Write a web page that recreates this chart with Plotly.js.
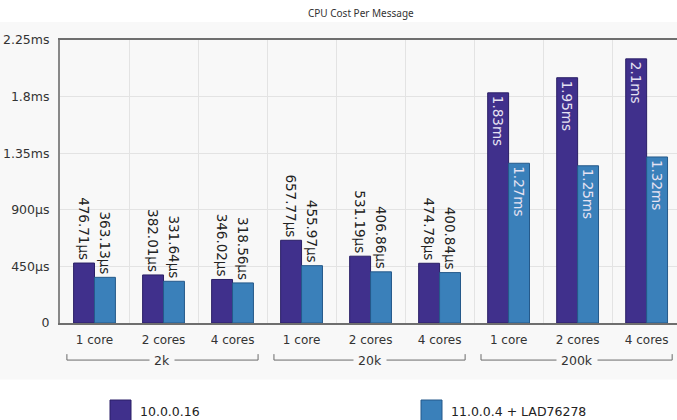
<!DOCTYPE html>
<html>
<head>
<meta charset="utf-8">
<script src="https://cdn.plot.ly/plotly-3.0.1.min.js"></script>
<style>html,body{margin:0;padding:0;background:#fff;}#chart{width:677px;height:420px;}</style>
</head>
<body>
<div id="chart"></div>
<script>
// ---- data ----
const groups = ['2k', '20k', '200k'];
const cores = ['1 core', '2 cores', '4 cores'];
const seriesNames = ['10.0.0.16', '11.0.0.4 + LAD76278'];
const seriesColors = ['#40308c', '#3a80ba'];
const seriesLines = ['#2a1f66', '#25598a'];
// values in microseconds, order: 2k(1,2,4), 20k(1,2,4), 200k(1,2,4)
const v10 = [476.71, 382.01, 346.02, 657.77, 531.19, 474.78, 1830, 1950, 2100];
const v11 = [363.13, 331.64, 318.56, 455.97, 406.86, 400.84, 1270, 1250, 1320];
const t10 = ['476.71µs', '382.01µs', '346.02µs', '657.77µs', '531.19µs', '474.78µs', '1.83ms', '1.95ms', '2.1ms'];
const t11 = ['363.13µs', '331.64µs', '318.56µs', '455.97µs', '406.86µs', '400.84µs', '1.27ms', '1.25ms', '1.32ms'];
const yTickVals = [0, 450, 900, 1350, 1800, 2250];
const yTickText = ['0', '450µs', '900µs', '1.35ms', '1.8ms', '2.25ms'];

// ---- build ----
const xIdx = [], xLabels = [];
groups.forEach((g, gi) => cores.forEach((c, ci) => { xIdx.push(gi * cores.length + ci); xLabels.push(c); }));

function mk(vals, txt, i) {
  return {
    type: 'bar', x: xIdx, y: vals, name: seriesNames[i], text: txt,
    textposition: vals.map(v => v > 1000 ? 'inside' : 'outside'),
    insidetextanchor: 'end', textangle: 90, constraintext: 'none', cliponaxis: false,
    insidetextfont: {family: 'DejaVu Sans', size: 13.5, color: '#e6e2f2'},
    outsidetextfont: {family: 'DejaVu Sans', size: 13.5, color: '#222'},
    marker: {color: seriesColors[i], line: {color: seriesLines[i], width: 1}},
    hoverinfo: 'none', showlegend: false
  };
}
const data = [mk(v10, t10, 0), mk(v11, t11, 1)];

const shapes = [], annotations = [];
// faint background band
shapes.push({type: 'rect', xref: 'paper', yref: 'paper', x0: -0.1, x1: 1.01, y0: -0.2, y1: 1.064,
  fillcolor: '#f8f8f8', line: {width: 0}, layer: 'below'});
// group brackets
groups.forEach((g, gi) => {
  const a = gi * cores.length - 0.4, b = gi * cores.length + cores.length - 0.63;
  const yb = -0.131, yt = -0.11;
  shapes.push({type: 'path', xref: 'x', yref: 'paper',
    path: `M${a},${yt} L${a},${yb} L${b},${yb} L${b},${yt}`,
    line: {color: '#6a6a6a', width: 1}});
  annotations.push({xref: 'x', yref: 'paper', x: (a + b) / 2, y: yb - 0.003, text: g, showarrow: false,
    font: {family: 'DejaVu Sans', size: 12.5, color: '#333'}, bgcolor: '#f8f8f8',
    xanchor: 'center', yanchor: 'middle', borderpad: 4});
});
// legend
const legX = [110, 421];
seriesNames.forEach((n, i) => {
  const px0 = legX[i], px1 = legX[i] + 21;
  shapes.push({type: 'rect', xref: 'paper', yref: 'paper',
    x0: (px0 - 60) / 617, x1: (px1 - 60) / 617, y0: (323 - 425) / 283, y1: (323 - 400) / 283,
    fillcolor: seriesColors[i], line: {color: seriesLines[i], width: 1}});
  annotations.push({xref: 'paper', yref: 'paper', x: (px1 + 7 - 60) / 617, y: (323 - 411) / 283,
    text: n, showarrow: false, xanchor: 'left', yanchor: 'middle',
    font: {family: 'DejaVu Sans', size: 12.5, color: '#222'}});
});

const layout = {
  width: 677, height: 420,
  margin: {l: 60, r: 0, t: 40, b: 97},
  paper_bgcolor: '#ffffff', plot_bgcolor: '#ffffff',
  title: {text: 'CPU Cost Per Message', xref: 'container', x: 0.533, xanchor: 'center',
    yref: 'container', y: 0.969, yanchor: 'middle',
    font: {family: 'Noto Sans', size: 10, color: '#333'}},
  barmode: 'group', bargap: 0.394, bargroupgap: 0,
  xaxis: {type: 'linear', range: [-0.5, 8.44], tickmode: 'array', tickvals: xIdx, ticktext: xLabels,
    showgrid: false, zeroline: false, showline: true, linecolor: '#6e6e6e', linewidth: 2, mirror: true,
    ticks: '', ticklabelstandoff: 5, tickfont: {family: 'DejaVu Sans', size: 12, color: '#333'},
    minor: {tickmode: 'linear', tick0: 0.5, dtick: 1, showgrid: true, gridcolor: '#e3e3e3', gridwidth: 1, ticks: ''}},
  yaxis: {range: [0, 2250], tickmode: 'array', tickvals: yTickVals, ticktext: yTickText,
    showgrid: true, gridcolor: '#e3e3e3', gridwidth: 1, zeroline: false,
    showline: true, linecolor: '#888', linewidth: 2, ticks: '', ticklabelstandoff: 6,
    tickfont: {family: 'DejaVu Sans', size: 12.5, color: '#333'}},
  shapes: shapes, annotations: annotations, showlegend: false
};
Plotly.newPlot('chart', data, layout, {displayModeBar: false, staticPlot: true});
</script>
</body>
</html>
